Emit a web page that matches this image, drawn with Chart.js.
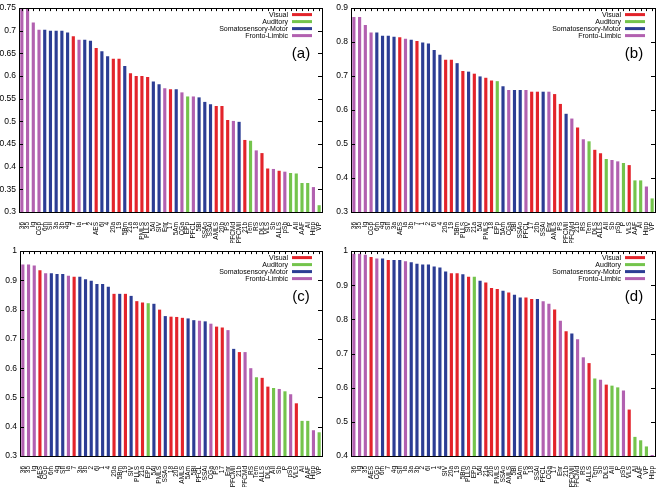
<!DOCTYPE html>
<html>
<head>
<meta charset="utf-8">
<script src="https://cdn.jsdelivr.net/npm/chart.js@4"></script>
<style>
  body { margin: 0; background: #fff; }
  #wrap { position: relative; width: 662px; height: 487px; }
  canvas { position: absolute; }
</style>
</head>
<body>
<div id="wrap">
  <canvas id="pa" width="331" height="243" style="left:0;top:0"></canvas>
  <canvas id="pb" width="331" height="243" style="left:331px;top:0"></canvas>
  <canvas id="pc" width="331" height="244" style="left:0;top:243px"></canvas>
  <canvas id="pd" width="331" height="244" style="left:331px;top:243px"></canvas>
</div>
<script>
// grupos de areas
const visual = ['17','18','19','PLLS','PMLS','AMLS','ALLS','VLS','DLS','21a','21b','20a','20b','7','AES','PS'];
const auditory = ['AI','AII','AAF','P','VP','EPp','Tem'];
const somatomotor = ['3a','3b','1','2','SII','SIV','4g','4','6l','6m','5Am','5Al','5Bm','5Bl','SSAo','SSAi','PFCMil'];
const frontolimbic = ['PFCMd','PFCL','Ia','Ig','CGa','CGp','RS','35','36','pSb','Sb','Enr','Hipp'];

const groupNames = ['Visual', 'Auditory', 'Somatosensory-Motor', 'Fronto-Limbic'];
const groupColors = ['#e3242b', '#74c44c', '#2c3d94', '#b261b0'];

// painel (a)
const labelsA = ['36','35','Ig','CGp','6m','SII','3a','3b','4g','7','Ia','1','2','AES','6l','4','20a','19','5Bm','21a','18','PMLS','PLLS','5Al','SIV','Enr','17','5Am','CGa','EPp','PFCL','5Bl','SSAo','SSAi','AMLS','20b','PS','PFCMd','PFCMil','21b','Tem','RS','DLS','VLS','Sb','ALLS','pSb','P','AII','AAF','AI','Hipp','VP'];
const valuesA = [0.750,0.750,0.718,0.702,0.702,0.700,0.700,0.700,0.696,0.688,0.680,0.680,0.678,0.662,0.655,0.644,0.638,0.638,0.622,0.606,0.600,0.600,0.598,0.588,0.582,0.573,0.571,0.571,0.564,0.555,0.555,0.553,0.543,0.538,0.534,0.534,0.503,0.501,0.499,0.459,0.457,0.436,0.430,0.396,0.395,0.391,0.389,0.386,0.385,0.364,0.364,0.355,0.315];
const yTicksA = [0.3, 0.75, 0.05];

// painel (b)
const labelsB = ['36','35','Ig','CGp','6m','4g','SII','3a','AES','Ia','3b','7','1','2','6l','4','20a','19','5Bm','PLLS','SIV','21a','5Al','PMLS','18','EPp','5Am','CGa','5Bl','SSAo','PFCL','17','20b','SSAi','Enr','AMLS','PS','PFCMil','PFCMd','21b','RS','Tem','DLS','ALLS','AII','Sb','pSb','P','VLS','AAF','AI','Hipp','VP'];
const valuesB = [0.874,0.874,0.850,0.828,0.828,0.819,0.819,0.816,0.814,0.810,0.807,0.803,0.799,0.796,0.777,0.763,0.748,0.748,0.738,0.715,0.713,0.707,0.699,0.695,0.687,0.685,0.670,0.659,0.659,0.659,0.659,0.654,0.654,0.654,0.654,0.647,0.618,0.589,0.575,0.549,0.514,0.508,0.483,0.473,0.456,0.453,0.449,0.444,0.438,0.393,0.393,0.375,0.340];
const yTicksB = [0.3, 0.9, 0.1];

// painel (c)
const labelsC = ['36','35','Ig','AES','CGp','6m','4g','SII','Ia','7','3a','3b','2','6l','1','4','20a','5Bm','19','SIV','PLLS','21a','EPp','5Al','PMLS','SSAo','18','20b','AMLS','5Am','5Bl','PFCL','SSAi','CGa','PS','17','Enr','PFCMil','21b','PFCMd','RS','Tem','ALLS','DLS','AII','Sb','P','pSb','VLS','AI','AAF','Hipp','VP'];
const valuesC = [0.954,0.954,0.951,0.935,0.924,0.924,0.922,0.922,0.916,0.912,0.912,0.904,0.899,0.888,0.888,0.878,0.854,0.854,0.854,0.847,0.829,0.824,0.822,0.820,0.800,0.778,0.776,0.775,0.772,0.770,0.764,0.762,0.760,0.752,0.742,0.739,0.730,0.666,0.655,0.655,0.600,0.569,0.567,0.537,0.532,0.529,0.521,0.511,0.480,0.420,0.420,0.388,0.381];
const yTicksC = [0.3, 1, 0.1];

// painel (d)
const labelsD = ['36','Ig','35','AES','CGp','6m','7','4g','SII','Ia','3a','3b','2','6l','1','4','SIV','20a','19','5Bm','PLLS','EPp','5Al','21a','20b','PMLS','SSAo','AMLS','5Bl','5Am','PS','18','SSAi','PFCL','CGa','17','Enr','21b','PFCMil','PFCMd','RS','ALLS','Tem','Sb','DLS','AII','P','pSb','VLS','AI','AAF','VP','Hipp'];
const valuesD = [0.992,0.992,0.989,0.983,0.978,0.978,0.974,0.974,0.974,0.970,0.967,0.963,0.961,0.961,0.955,0.952,0.940,0.935,0.935,0.932,0.925,0.925,0.913,0.908,0.892,0.889,0.884,0.879,0.872,0.864,0.864,0.860,0.860,0.853,0.846,0.829,0.796,0.765,0.759,0.742,0.689,0.672,0.627,0.623,0.609,0.606,0.601,0.592,0.536,0.456,0.446,0.428,0.403];
const yTicksD = [0.4, 1, 0.1];

const fonte = "'Liberation Sans', Arial, Helvetica, sans-serif";

function corDaArea(area) {
    if (visual.includes(area)) return groupColors[0];
    if (auditory.includes(area)) return groupColors[1];
    if (somatomotor.includes(area)) return groupColors[2];
    return groupColors[3];
}

// moldura no estilo gnuplot, ticks para dentro, legenda e letra do painel
const molduraGnuplot = {
    id: 'molduraGnuplot',
    afterDatasetsDraw(chart) {
        const { ctx, chartArea: a, scales: { x, y } } = chart;
        ctx.save();
        ctx.strokeStyle = '#000';
        ctx.lineWidth = 1;
        ctx.beginPath();
        y.ticks.forEach((t, i) => {
            const py = Math.round(y.getPixelForTick(i)) + 0.5;
            ctx.moveTo(a.left, py); ctx.lineTo(a.left + 4, py);
            ctx.moveTo(a.right, py); ctx.lineTo(a.right - 4, py);
        });
        x.ticks.forEach((t, i) => {
            const px = Math.round(x.getPixelForTick(i)) + 0.5;
            ctx.moveTo(px, a.top); ctx.lineTo(px, a.top + 3);
        });
        ctx.stroke();
        ctx.strokeRect(Math.round(a.left) + 0.5, Math.round(a.top) + 0.5,
            Math.round(a.right - a.left), Math.round(a.bottom - a.top));

        // legenda
        ctx.font = '7px ' + fonte;
        ctx.textAlign = 'right';
        ctx.textBaseline = 'middle';
        groupNames.forEach((nome, i) => {
            const ly = a.top + 6.5 + i * 7;
            ctx.fillStyle = '#000';
            ctx.fillText(nome, a.right - 34, ly);
            ctx.fillStyle = groupColors[i];
            ctx.fillRect(a.right - 30, ly - 1.5, 20, 3);
        });

        // letra do painel
        ctx.font = '15px ' + fonte;
        ctx.textAlign = 'center';
        ctx.fillStyle = '#000';
        ctx.fillText(chart.options.plugins.letra, a.right - 21, a.top + 46);
        ctx.restore();
    }
};

function gerarPainel(id, letra, labels, values, yTicks, esquerda, direita) {
    const ctx = document.getElementById(id).getContext('2d');
    return new Chart(ctx, {
        type: 'bar',
        data: {
            labels: labels,
            datasets: [{
                data: values,
                backgroundColor: labels.map(corDaArea),
                barPercentage: 0.55,
                categoryPercentage: 1
            }]
        },
        options: {
            responsive: false,
            animation: false,
            devicePixelRatio: 1,
            layout: { padding: { top: 6, right: direita, left: 0, bottom: 0 } },
            plugins: {
                legend: { display: false },
                tooltip: { enabled: false },
                letra: letra
            },
            scales: {
                x: {
                    grid: { display: false },
                    border: { display: false },
                    ticks: {
                        autoSkip: false,
                        minRotation: 90,
                        maxRotation: 90,
                        padding: 2,
                        color: '#000',
                        font: { size: 6.5, family: fonte }
                    },
                    afterFit: s => { s.height = 31; }
                },
                y: {
                    min: yTicks[0],
                    max: yTicks[1],
                    grid: { display: false, drawTicks: false },
                    border: { display: false },
                    ticks: {
                        stepSize: yTicks[2],
                        padding: 3,
                        color: '#000',
                        font: { size: 8.5, family: fonte },
                        callback: v => String(Number(v.toFixed(2)))
                    },
                    afterFit: s => { s.width = esquerda; }
                }
            }
        },
        plugins: [molduraGnuplot]
    });
}

gerarPainel('pa', '(a)', labelsA, valuesA, yTicksA, 19, 9);
gerarPainel('pb', '(b)', labelsB, valuesB, yTicksB, 20, 6);
gerarPainel('pc', '(c)', labelsC, valuesC, yTicksC, 20, 9);
gerarPainel('pd', '(d)', labelsD, valuesD, yTicksD, 20, 6);
</script>
</body>
</html>
